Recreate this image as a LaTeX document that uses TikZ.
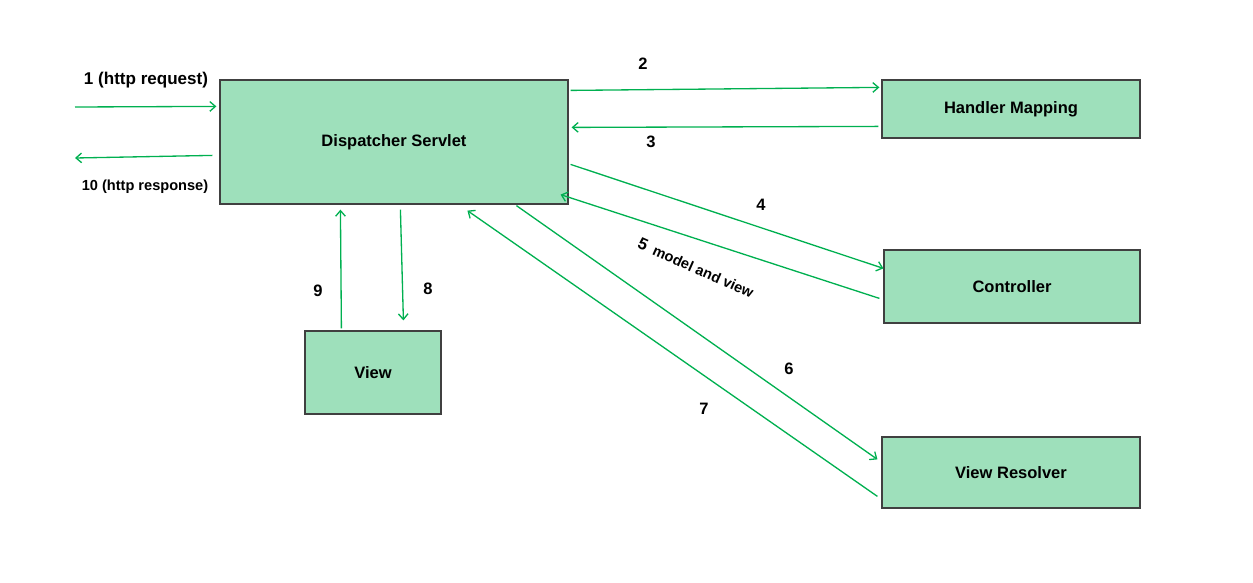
\documentclass[tikz,border=0pt]{standalone}
\usepackage{fontspec}
\setmainfont{Liberation Sans}
\usetikzlibrary{arrows.meta}
\definecolor{boxfill}{RGB}{158,224,187}
\definecolor{boxline}{RGB}{64,64,64}
\definecolor{arrowgreen}{RGB}{0,176,80}
\begin{document}
\begin{tikzpicture}[x=0.02cm,y=-0.02cm,
  compbox/.style={draw=boxline,line width=0.7pt,fill=boxfill,inner sep=0pt,
    font=\fontsize{9.4}{11}\selectfont\bfseries,anchor=center},
  flow/.style={draw=arrowgreen,line width=0.75pt,-{Straight Barb[length=3.2pt,width=5.5pt]}},
  numlbl/.style={font=\fontsize{9.4}{11}\selectfont\bfseries,inner sep=0pt},
  smalllbl/.style={font=\fontsize{8.3}{10}\selectfont\bfseries,inner sep=0pt}]
\useasboundingbox (0,0) rectangle (1253,582);
% boxes
\node[compbox,minimum width=6.96cm,minimum height=2.48cm] (ds) at (394,142) {Dispatcher Servlet};
\node[compbox,minimum width=5.16cm,minimum height=1.16cm] (hm) at (1011,109) {Handler Mapping};
\node[compbox,minimum width=5.12cm,minimum height=1.46cm] (ct) at (1012,286.5) {Controller};
\node[compbox,minimum width=2.72cm,minimum height=1.66cm] (vw) at (373,372.5) {View};
\node[compbox,minimum width=5.16cm,minimum height=1.42cm] (vr) at (1011,472.5) {View Resolver};
% free ends
\coordinate (in1) at (75,107);
\coordinate (out10) at (75,158);
% connectors
\draw[flow] (in1) -- ([shift={(-3,27)}]ds.north west);
\draw[flow] ([shift={(-7,76)}]ds.north west) -- (out10);
\draw[flow] ([shift={(2,11)}]ds.north east) -- ([shift={(-2,8)}]hm.north west);
\draw[flow] ([shift={(-3,47)}]hm.north west) -- ([shift={(3,48)}]ds.north east);
\draw[flow] ([shift={(2,85)}]ds.north east) -- ([shift={(0,19)}]ct.north west);
\draw[flow] ([shift={(-4,49)}]ct.north west) -- ([shift={(-8,-10)}]ds.south east);
\draw[flow] ([shift={(297,1)}]ds.south west) -- ([shift={(-4,23)}]vr.north west);
\draw[flow] ([shift={(-4,60)}]vr.north west) -- ([shift={(248,6)}]ds.south west);
\draw[flow] ([shift={(181,5)}]ds.south west) -- ([shift={(99,-10)}]vw.north west);
\draw[flow] ([shift={(37,-2)}]vw.north west) -- ([shift={(121,5)}]ds.south west);
% labels
\node[font=\fontsize{9.7}{12}\selectfont\bfseries,inner sep=0pt] (l1) at (146,80) {1 (http request)};
\node[smalllbl] (l10) at (145,187) {10 (http response)};
\node[numlbl] (l2) at (643,64) {2};
\node[numlbl] (l3) at (651,142) {3};
\node[numlbl] (l4) at (761,205) {4};
\node[smalllbl,rotate=-24] (l5) at (696,268) {{\fontsize{9.4}{11}\selectfont 5}\hspace{4pt}model and view};
\node[numlbl] (l6) at (789,369) {6};
\node[numlbl] (l7) at (704,409) {7};
\node[numlbl] (l8) at (428,289) {8};
\node[numlbl] (l9) at (318,291) {9};
\end{tikzpicture}
\end{document}
